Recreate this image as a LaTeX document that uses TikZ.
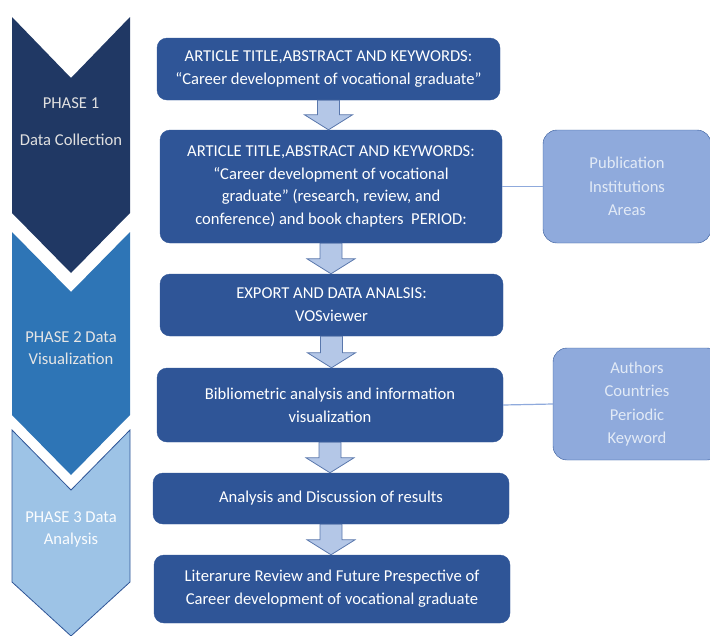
\documentclass[tikz,border=0pt]{standalone}
\usepackage{fontspec}
\setmainfont{Carlito}
\usepackage{tikz}
\usetikzlibrary{calc}

\definecolor{phaseone}{HTML}{203864}
\definecolor{phasetwo}{HTML}{2E75B6}
\definecolor{phasethree}{HTML}{9DC3E6}
\definecolor{boxblue}{HTML}{2F5597}
\definecolor{sideblue}{HTML}{8FAADC}
\definecolor{arrowblue}{HTML}{B4C7E7}
\definecolor{sidetext}{HTML}{E2EAF6}

% block arrow from the bottom of one box to the top of the next
\newcommand{\flowarrow}[2]{%
  \draw[blockarrow] let \p1=(#1.south), \p2=(#2.north) in
    (\x1-11pt,\y1) -- (\x1+11pt,\y1) -- (\x1+11pt,\y2+15pt) -- (\x1+24pt,\y2+15pt)
    -- (\x1,\y2) -- (\x1-24pt,\y2+15pt) -- (\x1-11pt,\y2+15pt) -- cycle;}

\begin{document}
\begin{tikzpicture}[x=1pt, y=-1pt,
  mainbox/.style={draw=boxblue, fill=boxblue, rounded corners=10pt, text=white,
    align=center, inner sep=0pt, font=\fontsize{16.6}{22.8}\selectfont},
  sidebox/.style={draw=boxblue, fill=sideblue, rounded corners=14pt, text=sidetext,
    align=center, inner sep=0pt, font=\fontsize{16.6}{23.5}\selectfont},
  blockarrow/.style={draw=boxblue!80!white, fill=arrowblue, line width=0.8pt},
  sideline/.style={draw=sideblue, line width=1.2pt},
  phasetext/.style={align=center, font=\fontsize{16.6}{22}\selectfont}]

  \useasboundingbox (0,0) rectangle (710,635);

  % Draw the phase chevrons
  \fill[phaseone] (12,17) -- (71,78) -- (130,17) -- (130,213) -- (71,273) -- (12,213) -- cycle;
  \fill[phasetwo] (12,232) -- (71,292) -- (130,232) -- (130,415) -- (71,475) -- (12,415) -- cycle;
  \filldraw[fill=phasethree, draw=boxblue, line width=0.8pt]
    (12,430) -- (71,490) -- (130,430) -- (130,582) -- (71,636) -- (12,582) -- cycle;

  % Label the phases
  \node[phasetext, text=white!88!black] (p1a) at (71,103) {PHASE 1};
  \node[phasetext, text=white!88!black] (p1b) at (71,140) {Data Collection};
  \node[phasetext, text=white!90!black] (p2) at (71,348) {PHASE 2 Data\\Visualization};
  \node[phasetext, text=white!95!phasethree] (p3) at (71,529) {PHASE 3 Data\\Analysis};

  % Define the box centres
  \coordinate (C1) at (328.5,69);
  \coordinate (C2) at (331,186.5);
  \coordinate (C3) at (331.5,305);
  \coordinate (C4) at (330,405);
  \coordinate (C5) at (331,498.5);
  \coordinate (C6) at (332,589);

  % Draw the steps
  \node[mainbox, minimum width=343, minimum height=62] (title) at (C1)
    {ARTICLE TITLE,ABSTRACT AND KEYWORDS:\\``Career development of vocational graduate''};
  \node[mainbox, minimum width=342, minimum height=113] (search) at (C2)
    {ARTICLE TITLE,ABSTRACT AND KEYWORDS:\\``Career development of vocational\\graduate'' (research, review, and\\conference) and book chapters\ \ PERIOD:};
  \node[mainbox, minimum width=343, minimum height=62] (export) at (C3)
    {EXPORT AND DATA ANALSIS:\\VOSviewer};
  \node[mainbox, minimum width=346, minimum height=74] (biblio) at (C4)
    {Bibliometric analysis and information\\visualization};
  \node[mainbox, minimum width=356, minimum height=51] (discuss) at (C5)
    {Analysis and Discussion of results};
  \node[mainbox, minimum width=356, minimum height=68] (review) at (C6)
    {Literarure Review and Future Prespective of\\Career development of vocational graduate};

  % Side boxes
  \node[sidebox, minimum width=168, minimum height=113] (areas) at (627,186.5)
    {Publication\\Institutions\\Areas};
  \node[sidebox, minimum width=168, minimum height=112] (keys) at (637,404)
    {Authors\\Countries\\Periodic\\Keyword};

  % Connect the steps
  \flowarrow{title}{search}
  \flowarrow{search}{export}
  \flowarrow{export}{biblio}
  \flowarrow{biblio}{discuss}
  \flowarrow{discuss}{review}

  \draw[sideline] (search.east) -- (areas.west);
  \draw[sideline] (biblio.east) -- (keys.west);
\end{tikzpicture}
\end{document}
